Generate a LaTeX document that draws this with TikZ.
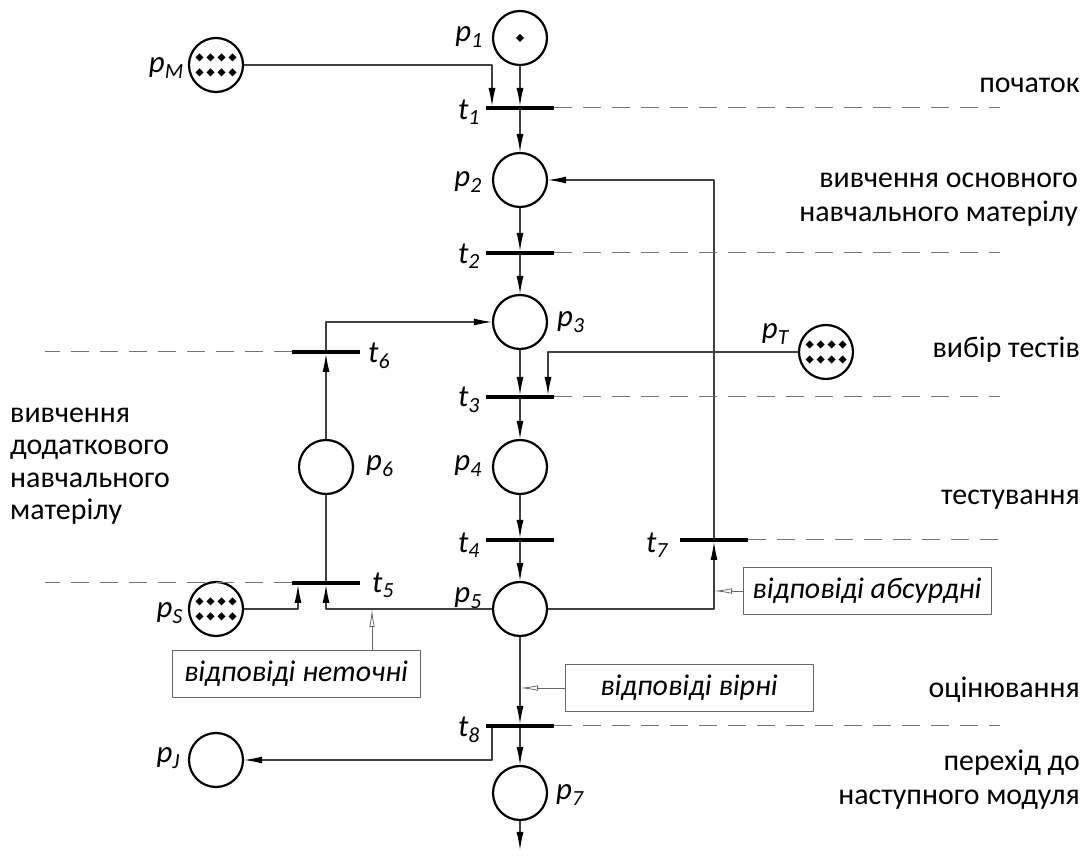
\documentclass[tikz,border=0pt]{standalone}
\usepackage{fontspec}
\setmainfont{Carlito}
\usetikzlibrary{arrows.meta}
\tikzset{
  place/.style={circle,draw,line width=2.2bp,minimum size=54bp,inner sep=0pt},
  trans/.style={rectangle,fill=black,minimum width=68bp,minimum height=3.6bp,inner sep=0pt},
  arc/.style={draw=black!75,line width=1.1bp,-{Latex[length=18bp,width=7bp,color=black]}},
  link/.style={draw=black!75,line width=1.1bp},
  stage/.style={draw=black!55,line width=1bp,dash pattern=on 18bp off 11bp},
  note/.style={draw=black!60,line width=1bp,minimum width=248bp,minimum height=47bp,font=\itshape\fontsize{30}{34}\selectfont},
  hint/.style={draw=black!60,line width=0.8bp,-{Latex[open,length=18bp,width=5.5bp]}},
  lbl/.style={font=\itshape\fontsize{31}{34}\selectfont,inner sep=0pt},
  phase/.style={anchor=east,align=right,font=\fontsize{30}{34}\selectfont,inner sep=0pt},
}
\newcommand{\dia}[1]{\fill (#1) +(0,4bp) -- +(4bp,0) -- +(0,-4bp) -- +(-4bp,0) -- cycle;}
\newcommand{\tokens}[1]{\foreach \i in {-1.5,-0.5,0.5,1.5} \foreach \j in {-1,1} {\dia{[shift={(\i*11bp,\j*7.5bp)}]#1.center}}}
\begin{document}
\begin{tikzpicture}[line join=bevel]
\useasboundingbox (0,0) rectangle (1088bp,868bp);
%% places
\node (p1) at (520bp,830bp) [place] {};
\node (pM) at (216bp,803bp) [place] {};
\node (p2) at (520bp,688bp) [place] {};
\node (p3) at (520bp,546bp) [place] {};
\node (pT) at (826bp,516bp) [place] {};
\node (p4) at (520bp,401bp) [place] {};
\node (p6) at (326bp,401bp) [place] {};
\node (p5) at (520bp,259bp) [place] {};
\node (pS) at (216bp,259bp) [place] {};
\node (pJ) at (216bp,108bp) [place] {};
\node (p7) at (520bp,75bp) [place] {};
\dia{p1.center}
\tokens{pM}
\tokens{pT}
\tokens{pS}
%% transitions
\node (t1) at (520bp,760bp) [trans] {};
\node (t2) at (520bp,615bp) [trans] {};
\node (t6) at (326bp,516bp) [trans] {};
\node (t3) at (520bp,471bp) [trans] {};
\node (t4) at (520bp,328bp) [trans] {};
\node (t7) at (714bp,328bp) [trans] {};
\node (t5) at (326bp,285bp) [trans] {};
\node (t8) at (520bp,142bp) [trans] {};
%% labels
\node (lp1) at (483bp,831bp) [lbl,anchor=east] {p\textsubscript{1}};
\node (lpM) at (184bp,800bp) [lbl,anchor=east] {p\textsubscript{M}};
\node (lt1) at (480bp,756bp) [lbl,anchor=east] {t\textsubscript{1}};
\node (lp2) at (482bp,686bp) [lbl,anchor=east] {p\textsubscript{2}};
\node (lt2) at (480bp,612bp) [lbl,anchor=east] {t\textsubscript{2}};
\node (lp3) at (557bp,546bp) [lbl,anchor=west] {p\textsubscript{3}};
\node (lt6) at (368bp,512bp) [lbl,anchor=west] {t\textsubscript{6}};
\node (lpT) at (789bp,534bp) [lbl,anchor=east] {p\textsubscript{T}};
\node (lt3) at (480bp,468bp) [lbl,anchor=east] {t\textsubscript{3}};
\node (lp4) at (482bp,402bp) [lbl,anchor=east] {p\textsubscript{4}};
\node (lp6) at (366bp,402bp) [lbl,anchor=west] {p\textsubscript{6}};
\node (lt4) at (480bp,323bp) [lbl,anchor=east] {t\textsubscript{4}};
\node (lt7) at (668bp,323bp) [lbl,anchor=east] {t\textsubscript{7}};
\node (lt5) at (372bp,283bp) [lbl,anchor=west] {t\textsubscript{5}};
\node (lp5) at (482bp,270bp) [lbl,anchor=east] {p\textsubscript{5}};
\node (lpS) at (183bp,255bp) [lbl,anchor=east] {p\textsubscript{S}};
\node (lt8) at (480bp,138bp) [lbl,anchor=east] {t\textsubscript{8}};
\node (lpJ) at (180bp,110bp) [lbl,anchor=east] {p\textsubscript{J}};
\node (lp7) at (556bp,73bp) [lbl,anchor=west] {p\textsubscript{7}};
%% stages
\node (s1) at (1080bp,783bp) [phase] {початок};
\node (s2) at (1078bp,668bp) [phase] {вивчення основного\\навчального матерілу};
\node (s3) at (1080bp,518bp) [phase] {вибір тестів};
\node (s4) at (1080bp,368bp) [phase] {тестування};
\node (s5) at (1080bp,178bp) [phase] {оцінювання};
\node (s6) at (1080bp,88bp) [phase] {перехід до\\наступного модуля};
\node (s7) at (10bp,402bp) [phase,anchor=west,align=left,font=\fontsize{30}{32.5}\selectfont] {вивчення\\додаткового\\навчального\\матерілу};
%% notes
\node (wrong) at (296bp,194bp) [note] {відповіді неточні};
\node (right) at (689bp,180bp) [note] {відповіді вірні};
\node (absurd) at (867bp,277bp) [note] {відповіді абсурдні};
%% helper points
\coordinate (rim) at (1000bp,0bp);
\coordinate (lrim) at (45bp,0bp);
\coordinate (t1a) at ([xshift=-28bp]t1.north);
\coordinate (t3a) at ([xshift=28bp]t3.north);
\coordinate (t5a) at ([xshift=-28bp]t5.south);
\coordinate (t8a) at ([xshift=-28bp]t8.south);
\coordinate (h1) at (372bp,259bp);
\coordinate (out) at (520bp,18bp);
%% arcs
\draw [arc] (p1) -- (t1);
\draw [arc] (pM) -| (t1a);
\draw [arc] (t1) -- (p2);
\draw [arc] (p2) -- (t2);
\draw [arc] (t2) -- (p3);
\draw [arc] (p3) -- (t3);
\draw [arc] (pT) -| (t3a);
\draw [arc] (t3) -- (p4);
\draw [arc] (p4) -- (t4);
\draw [arc] (t4) -- (p5);
\draw [arc] (p5) -| (t5);
\draw [arc] (pS) -| (t5a);
\draw [link] (t5) -- (p6);
\draw [arc] (p6) -- (t6);
\draw [arc] (t6) |- (p3);
\draw [arc] (p5) -| (t7);
\draw [arc] (t7) |- (p2);
\draw [arc] (p5) -- (t8);
\draw [arc] (t8) -- (p7);
\draw [arc] (t8a) |- (pJ);
\draw [arc] (p7) -- (out);
%% hints
\draw [hint] (h1 |- wrong.north) -- (h1);
\draw [hint] (right.west) -- (right.west -| p5);
\draw [hint] (absurd.west) -- (absurd.west -| t7);
%% stage lines
\draw [stage] (t1.east) -- (t1.east -| rim);
\draw [stage] (t2.east) -- (t2.east -| rim);
\draw [stage] (t3.east) -- (t3.east -| rim);
\draw [stage] (t7.east) -- (t7.east -| rim);
\draw [stage] (t8.east) -- (t8.east -| rim);
\draw [stage] (t6.west) -- (t6.west -| lrim);
\draw [stage] (t5.west) -- (t5.west -| lrim);
%
\end{tikzpicture}
\end{document}
